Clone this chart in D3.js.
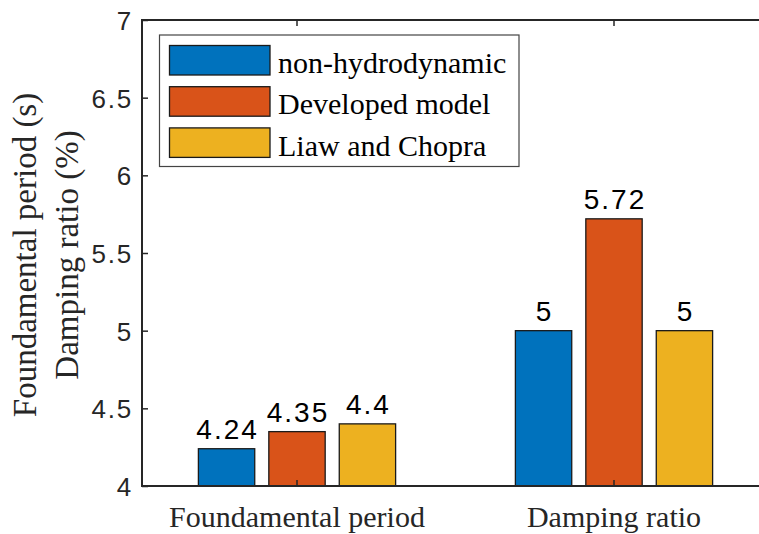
<!DOCTYPE html>
<html><head><meta charset="utf-8">
<script src="https://cdn.jsdelivr.net/npm/d3@7"></script>
<style>body{margin:0;background:#fff}svg{display:block}</style>
</head><body>
<script>
const categories = ["Foundamental period", "Damping ratio"];
const seriesNames = ["non-hydrodynamic", "Developed model", "Liaw and Chopra"];
const nonHydro = [4.24, 5];
const developed = [4.35, 5.72];
const liaw = [4.4, 5];
const valueLabels = [["4.24", "5"], ["4.35", "5.72"], ["4.4", "5"]];
const yTicks = [4, 4.5, 5, 5.5, 6, 6.5, 7];
const colors = ["#0072BD", "#D95319", "#EDB120"];
const series = [nonHydro, developed, liaw];

const SANS = "'Liberation Sans', Arial, sans-serif";
const SERIF = "'Liberation Serif', 'Times New Roman', serif";

const W = 759, H = 534;
const svg = d3.select("body").append("svg").attr("width", W).attr("height", H);
const L = 142, T = 20, B = 486;
const x = d3.scaleLinear().domain([1, 2]).range([297, 614]);
const y = d3.scaleLinear().domain([4, 7]).range([B, T]);
const R = x(2.5);
const step = 0.2222, bw = 0.8 * step;
const axisColor = "#262626";

// bars
series.forEach((s, i) => {
  s.forEach((v, j) => {
    const cx = x(j + 1 + (i - 1) * step);
    svg.append("rect")
      .attr("x", x(j + 1 + (i - 1) * step - bw / 2))
      .attr("width", x(bw) - x(0))
      .attr("y", y(v)).attr("height", y(4) - y(v))
      .attr("fill", colors[i]).attr("stroke", "#1a1a1a").attr("stroke-width", 1.3);
    svg.append("text").attr("x", cx + 1).attr("y", y(v) - 9.5)
      .attr("text-anchor", "middle")
      .style("font-family", SANS).style("letter-spacing", "2px")
      .attr("font-size", 28).attr("fill", "#000")
      .text(valueLabels[i][j]);
  });
});

// axes box
const g = svg.append("g");
g.append("line").attr("x1", L).attr("x2", L).attr("y1", T - 1).attr("y2", B + 1).attr("stroke", axisColor).attr("stroke-width", 2);
g.append("line").attr("x1", L).attr("x2", R).attr("y1", B).attr("y2", B).attr("stroke", axisColor).attr("stroke-width", 2);
g.append("line").attr("x1", L).attr("x2", R).attr("y1", T).attr("y2", T).attr("stroke", axisColor).attr("stroke-width", 2);

// y axis ticks (inward)
const yAxis = d3.axisLeft(y).tickValues(yTicks).tickSizeInner(-6).tickSizeOuter(0).tickPadding(9)
  .tickFormat(d => d3.format("")(d));
const ya = svg.append("g").attr("transform", `translate(${L},0)`).call(yAxis);
ya.select(".domain").remove();
ya.selectAll(".tick line").attr("stroke", axisColor).attr("stroke-width", 1.5);
ya.selectAll("text").style("font-family", SANS).style("letter-spacing", "1.8px")
  .attr("font-size", 26).attr("fill", "#262626").attr("dy", "0.36em");

// x ticks bottom and top (inward)
[1, 2].forEach(v => {
  svg.append("line").attr("x1", x(v)).attr("x2", x(v)).attr("y1", B).attr("y2", B - 6).attr("stroke", axisColor).attr("stroke-width", 1.5);
  svg.append("line").attr("x1", x(v)).attr("x2", x(v)).attr("y1", T).attr("y2", T + 6).attr("stroke", axisColor).attr("stroke-width", 1.5);
});
categories.forEach((c, j) => {
  svg.append("text").attr("x", x(j + 1)).attr("y", 527)
    .attr("text-anchor", "middle").style("font-family", SERIF)
    .attr("font-size", 30).attr("fill", "#262626").text(c);
});

// y label (two rotated lines)
const yLabelLines = ["Foundamental period (s)", "Damping ratio (%)"];
yLabelLines.forEach((t, k) => {
  svg.append("text").attr("transform", `translate(${36 + k * 42},255) rotate(-90)`)
    .attr("text-anchor", "middle").style("font-family", SERIF)
    .attr("font-size", 33).attr("fill", "#262626").text(t);
});

// legend
const lg = svg.append("g");
lg.append("rect").attr("x", 159.5).attr("y", 35).attr("width", 359.5).attr("height", 131.5)
  .attr("fill", "#fff").attr("stroke", "#444").attr("stroke-width", 1.2);
seriesNames.forEach((n, i) => {
  const yy = 45.5 + i * 41.2;
  lg.append("rect").attr("x", 169.5).attr("y", yy).attr("width", 100.5).attr("height", 29.5)
    .attr("fill", colors[i]).attr("stroke", "#1a1a1a").attr("stroke-width", 1.3);
  lg.append("text").attr("x", 278).attr("y", yy + 27.6).style("font-family", SERIF)
    .attr("font-size", 30).attr("fill", "#000").text(n);
});
</script>
</body></html>
